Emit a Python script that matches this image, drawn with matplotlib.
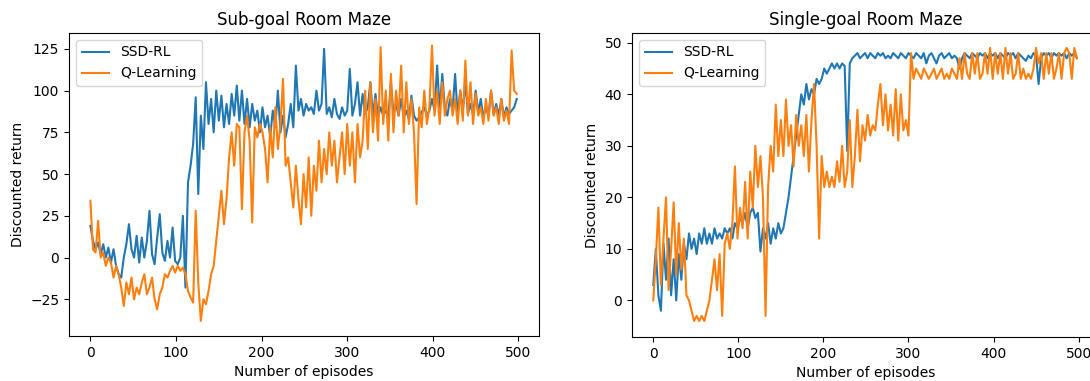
import matplotlib
matplotlib.use("Agg")
import matplotlib.pyplot as plt

episodes = list(range(0, 499, 3))

sub_ssd = [19, 10, 5, 9, 2, 8, 0, 6, -3, 5,
           -5, -10, -12, 0, 8, 20, 5, 0, 13, -3,
           12, 0, 10, 28, 2, -4, 12, 26, 3, -2,
           10, 0, 18, -2, -4, 0, 25, -18, 45, 55,
           68, 96, 38, 85, 65, 105, 80, 95, 75, 100,
           82, 97, 78, 92, 80, 98, 85, 103, 82, 100,
           80, 95, 78, 92, 82, 88, 75, 90, 78, 85,
           72, 88, 78, 100, 75, 85, 72, 80, 92, 78,
           115, 88, 95, 85, 92, 88, 90, 86, 100, 88,
           92, 125, 86, 90, 84, 95, 86, 83, 90, 85,
           88, 113, 85, 92, 105, 85, 98, 86, 90, 105,
           85, 98, 84, 90, 85, 88, 84, 105, 86, 92,
           85, 95, 84, 88, 83, 97, 85, 82, 84, 87,
           90, 85, 88, 95, 88, 115, 88, 110, 90, 85,
           95, 88, 110, 85, 100, 88, 105, 86, 92, 85,
           100, 87, 95, 84, 90, 85, 100, 86, 92, 85,
           95, 84, 90, 86, 88, 90, 95]
sub_q = [34, 5, 3, 22, 0, 3, -5, 0, -3, -12,
         -5, -10, -18, -29, -15, -22, -12, -25, -18, -22,
         -15, -10, -22, -18, -12, -25, -31, -22, -18, -10,
         -12, -8, -5, -9, -5, -8, -6, -10, -20, -24,
         -27, 28, -15, -38, -25, -28, -20, -10, -5, 10,
         25, 40, 20, 35, 60, 75, 55, 80, 78, 29,
         75, 85, 70, 21, 78, 72, 80, 75, 65, 45,
         78, 60, 90, 65, 80, 107, 55, 60, 45, 30,
         55, 35, 20, 50, 30, 60, 25, 55, 40, 70,
         45, 65, 50, 75, 55, 70, 45, 60, 75, 50,
         80, 55, 75, 45, 80, 60, 70, 100, 65, 105,
         75, 95, 70, 126, 80, 100, 70, 110, 75, 100,
         85, 115, 75, 105, 80, 95, 75, 32, 90, 78,
         100, 80, 90, 127, 85, 100, 80, 105, 85, 95,
         100, 85, 95, 80, 100, 82, 118, 85, 105, 80,
         98, 85, 90, 80, 95, 82, 100, 85, 90, 80,
         95, 82, 88, 80, 124, 100, 98]

single_ssd = [3, 10, 1, -2, 11, 4, 12, 1, 8, 0,
              9, 4, 11, 8, 13, 10, 12, 9, 13, 11,
              14, 11, 13, 11, 14, 12, 13, 12, 14, 13,
              14, 12, 15, 14, 16, 15, 17, 14, 17, 18,
              16, 17, 9.5, 14, 12, 15, 11, 14, 12, 15,
              13, 14, 17, 20, 24, 28, 32, 36, 40, 38,
              42, 39, 41, 40, 43, 42, 43, 45, 44, 45,
              46, 45, 46, 45, 46, 45.5, 29, 46, 47, 47.5,
              48, 47, 47.5, 48, 47, 48, 47.5, 47, 48, 47.5,
              48, 47, 47.5, 47, 48, 47.5, 47, 48, 47.5, 47,
              48, 47.5, 47, 48, 47.5, 47, 48, 46, 47.5, 48,
              47, 46, 47.5, 48, 47, 47.5, 48, 47, 47.5, 47,
              45, 47, 48, 47.5, 47, 48, 47.5, 47, 48, 47.5,
              48, 47, 48, 47.5, 48, 47, 48, 47.5, 47, 48,
              47.5, 48, 47, 48, 47.5, 47, 46.5, 47.5, 47, 48,
              47.5, 42, 47, 48, 47.5, 48, 47, 48, 47.5, 48,
              47.5, 48, 47, 48, 47.5, 48, 47]
single_q = [0, 8, 18, 3, 12, 20, 2, 10, 19, 5,
            15, 6, 12, 1, 0, -2, -4, -3, -4, -3,
            -4, -2, 0, 4, 8, 2, 9, -3, 11, 13,
            10, 15, 26, 12, 18, 14, 23, 12, 25, 18,
            30, 22, 28, 20, -3, 22, 30, 25, 38, 28,
            35, 28, 39, 30, 34, 26, 36, 30, 34, 28,
            36, 25, 35, 42, 30, 12, 28, 22, 25, 22,
            24, 22, 27, 23, 30, 22, 25, 35, 22, 28,
            37, 27, 34, 31, 36, 32, 34, 33, 38, 42,
            34, 40, 33, 38, 32, 41, 31, 40, 33, 35,
            32, 48, 43, 45, 44, 43, 45, 44, 43, 44,
            45, 43, 44, 45, 43, 44, 43, 45, 44, 43,
            47, 43, 48, 44, 43, 48, 44, 48, 43, 44,
            48, 44, 49, 43, 48, 44, 48, 43, 49, 44,
            48, 43, 44, 48, 43, 45, 43, 44, 43, 45,
            49, 46, 48, 43, 48, 44, 48, 43, 45, 48,
            43, 48, 49, 48, 43, 49, 47]

series_labels = ["SSD-RL", "Q-Learning"]
titles = ["Sub-goal Room Maze", "Single-goal Room Maze"]
xlabel = "Number of episodes"
ylabel = "Discounted return"

fig = plt.figure(figsize=(10.9, 3.81), dpi=100)
ax1 = fig.add_axes([69/1090, 45/381, 470/1090, 303/381])
ax2 = fig.add_axes([632/1090, 44/381, 467/1090, 304/381])

for ax, ssd, q, title, ylim in [(ax1, sub_ssd, sub_q, titles[0], (-47, 134.5)),
                                 (ax2, single_ssd, single_q, titles[1], (-7.1, 51.9))]:
    ax.plot(episodes, ssd, color="tab:blue", label=series_labels[0])
    ax.plot(episodes, q, color="tab:orange", label=series_labels[1])
    ax.set_title(title, fontsize=12)
    ax.set_xlabel(xlabel)
    ax.set_ylabel(ylabel)
    ax.set_xlim(-25, 524)
    ax.set_ylim(*ylim)
    ax.set_xticks([0, 100, 200, 300, 400, 500])
    ax.legend(loc="upper left")

ax1.set_yticks([-25, 0, 25, 50, 75, 100, 125])
ax2.set_yticks([0, 10, 20, 30, 40, 50])

fig.savefig("out.png", dpi=100)
